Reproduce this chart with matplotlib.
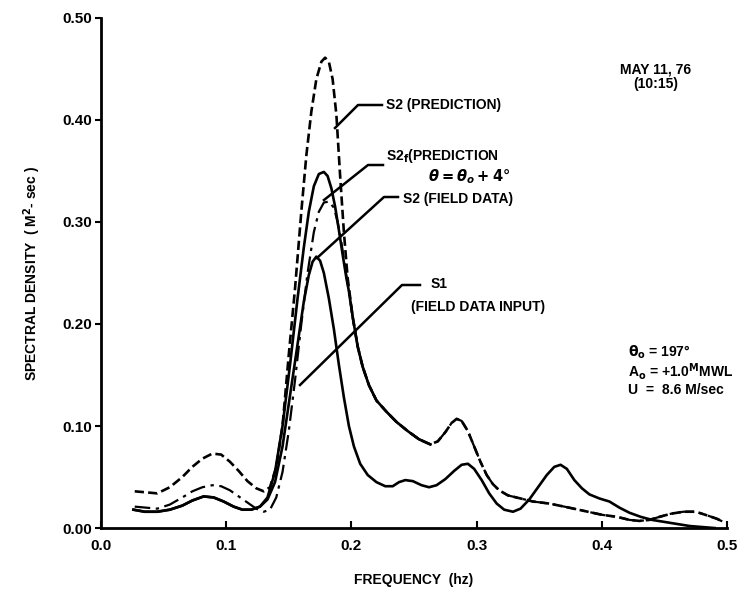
import matplotlib
matplotlib.use('Agg')
import matplotlib.pyplot as plt


# S2 prediction (dashed)
f_pred = [0.027, 0.036, 0.045, 0.055, 0.065, 0.073, 0.081, 0.089, 0.096, 0.103,
          0.110, 0.117, 0.124, 0.130, 0.135, 0.140, 0.145, 0.150, 0.155, 0.160,
          0.164, 0.168, 0.172, 0.176, 0.179, 0.182, 0.185, 0.188, 0.191, 0.194,
          0.197, 0.201, 0.205, 0.209, 0.214, 0.220, 0.228, 0.236, 0.245, 0.254,
          0.263, 0.269, 0.275, 0.280, 0.284, 0.288, 0.293, 0.298, 0.303, 0.308,
          0.313, 0.318, 0.325, 0.335, 0.345, 0.358, 0.370, 0.385, 0.400, 0.412,
          0.422, 0.430, 0.438, 0.446, 0.455, 0.465, 0.475, 0.485, 0.492, 0.497]
s_pred = [0.036, 0.035, 0.034, 0.040, 0.050, 0.060, 0.068, 0.073, 0.072, 0.065,
          0.056, 0.046, 0.039, 0.036, 0.040, 0.060, 0.100, 0.170, 0.235, 0.310,
          0.365, 0.408, 0.440, 0.457, 0.461, 0.457, 0.440, 0.405, 0.345, 0.290,
          0.245, 0.207, 0.178, 0.158, 0.140, 0.125, 0.114, 0.104, 0.095, 0.087,
          0.082, 0.085, 0.094, 0.103, 0.107, 0.105, 0.095, 0.080, 0.065, 0.052,
          0.043, 0.037, 0.032, 0.029, 0.026, 0.024, 0.021, 0.017, 0.013, 0.011,
          0.008, 0.007, 0.008, 0.011, 0.014, 0.016, 0.016, 0.012, 0.009, 0.006]

# S2f prediction (dash-dot), theta = theta0 + 4 deg
f_s2f = [0.027, 0.036, 0.045, 0.055, 0.065, 0.073, 0.081, 0.089, 0.096, 0.103,
         0.110, 0.117, 0.124, 0.130, 0.135, 0.140, 0.145, 0.150, 0.155, 0.160,
         0.165, 0.170, 0.174, 0.178, 0.182, 0.186, 0.189, 0.192, 0.195, 0.198,
         0.201, 0.205, 0.209, 0.214, 0.220, 0.228, 0.236, 0.245, 0.254,
         0.263, 0.269, 0.275, 0.280, 0.284, 0.288, 0.293, 0.298, 0.303, 0.308,
         0.313, 0.318, 0.325, 0.335, 0.345, 0.358, 0.370, 0.385, 0.400, 0.412,
         0.422, 0.430, 0.438, 0.446, 0.455, 0.465, 0.475, 0.485, 0.492, 0.497]
s_s2f = [0.021, 0.020, 0.019, 0.023, 0.030, 0.036, 0.040, 0.042, 0.041, 0.037,
         0.031, 0.025, 0.019, 0.016, 0.018, 0.030, 0.055, 0.095, 0.145, 0.200,
         0.250, 0.290, 0.310, 0.319, 0.320, 0.314, 0.300, 0.280, 0.255, 0.232,
         0.207, 0.178, 0.158, 0.140, 0.125, 0.114, 0.104, 0.095, 0.087,
         0.082, 0.085, 0.094, 0.103, 0.107, 0.105, 0.095, 0.080, 0.065, 0.052,
         0.043, 0.037, 0.032, 0.029, 0.026, 0.024, 0.021, 0.017, 0.013, 0.011,
         0.008, 0.007, 0.008, 0.011, 0.014, 0.016, 0.016, 0.012, 0.009, 0.006]

# S2 field data (solid)
f_s2 = [0.026, 0.035, 0.045, 0.055, 0.065, 0.073, 0.082, 0.090, 0.098, 0.106,
        0.113, 0.120, 0.127, 0.133, 0.139, 0.145, 0.151, 0.157, 0.162, 0.166,
        0.170, 0.174, 0.178, 0.181, 0.184, 0.187, 0.190, 0.193, 0.196, 0.198,
        0.201, 0.205, 0.209, 0.214, 0.220, 0.228, 0.236, 0.245, 0.254, 0.263]
s_s2 = [0.018, 0.016, 0.016, 0.018, 0.022, 0.027, 0.031, 0.030, 0.026, 0.021,
        0.018, 0.018, 0.021, 0.030, 0.055, 0.100, 0.160, 0.225, 0.275, 0.310,
        0.335, 0.347, 0.349, 0.345, 0.333, 0.315, 0.292, 0.268, 0.245, 0.232,
        0.207, 0.178, 0.158, 0.140, 0.125, 0.114, 0.104, 0.095, 0.087, 0.082]

# S1 field data input (solid)
f_s1 = [0.026, 0.035, 0.045, 0.055, 0.065, 0.073, 0.082, 0.090, 0.098, 0.106,
        0.113, 0.120, 0.127, 0.133, 0.139, 0.145, 0.151, 0.157, 0.162, 0.166,
        0.169, 0.172, 0.175, 0.178, 0.182, 0.186, 0.190, 0.194, 0.198, 0.202,
        0.207, 0.213, 0.220, 0.227, 0.233, 0.238, 0.243, 0.249, 0.256, 0.262,
        0.268, 0.275, 0.282, 0.288, 0.293, 0.298, 0.304, 0.310, 0.316, 0.322,
        0.329, 0.335, 0.342, 0.349, 0.356, 0.362, 0.367, 0.372, 0.378, 0.384,
        0.390, 0.398, 0.406, 0.414, 0.422, 0.431, 0.440, 0.450, 0.460, 0.470,
        0.480, 0.490]
s_s1 = [0.018, 0.016, 0.016, 0.018, 0.022, 0.027, 0.031, 0.030, 0.026, 0.021,
        0.018, 0.018, 0.021, 0.028, 0.045, 0.080, 0.130, 0.180, 0.222, 0.248,
        0.261, 0.266, 0.262, 0.250, 0.225, 0.195, 0.160, 0.128, 0.100, 0.080,
        0.063, 0.052, 0.045, 0.041, 0.041, 0.045, 0.047, 0.046, 0.042, 0.040,
        0.042, 0.048, 0.056, 0.062, 0.063, 0.058, 0.047, 0.034, 0.024, 0.018,
        0.016, 0.019, 0.028, 0.040, 0.052, 0.060, 0.062, 0.058, 0.047, 0.039,
        0.033, 0.029, 0.026, 0.020, 0.015, 0.011, 0.008, 0.006, 0.004, 0.002,
        0.001, 0.000]

y_ticks = [0.0, 0.1, 0.2, 0.3, 0.4, 0.5]
y_labels = ['0.00', '0.10', '0.20', '0.30', '0.40', '0.50']
x_ticks = [0.0, 0.1, 0.2, 0.3, 0.4, 0.5]
x_labels = ['0.0', '0.1', '0.2', '0.3', '0.4', '0.5']

plt.rcParams['font.family'] = ['Liberation Sans', 'DejaVu Sans']
plt.rcParams['font.weight'] = 'bold'
plt.rcParams['mathtext.fontset'] = 'dejavusans'

fig = plt.figure(figsize=(7.42, 5.96), dpi=100)
ax = fig.add_axes([0.136, 0.114, 0.844, 0.856])

lw = 1.9
ax.plot(f_s1, s_s1, color='black', linewidth=lw)
ax.plot(f_s2, s_s2, color='black', linewidth=lw)
ax.plot(f_s2f, s_s2f, color='black', linewidth=1.6, linestyle=(0, (7, 2.5, 1.5, 2.5)))
ax.plot(f_pred, s_pred, color='black', linewidth=lw, linestyle=(0, (3.5, 1.6)))

ax.set_xlim(0.0, 0.5)
ax.set_ylim(0.0, 0.5)
ax.set_yticks(y_ticks)
ax.set_yticklabels(y_labels)
ax.set_xticks(x_ticks)
ax.set_xticklabels(x_labels)
ax.tick_params(axis='y', direction='out', length=4, width=1.5, labelsize=11, pad=2)
ax.tick_params(axis='x', direction='in', length=5, width=1.5, labelsize=11, pad=8)
for lab in ax.get_xticklabels() + ax.get_yticklabels():
    lab.set_fontweight('bold')

ax.spines['top'].set_visible(False)
ax.spines['right'].set_visible(False)
ax.spines['left'].set_linewidth(2)
ax.spines['bottom'].set_linewidth(2)

ax.set_xlabel('FREQUENCY  (hz)', fontsize=10, fontweight='bold', labelpad=14)
ax.set_ylabel('SPECTRAL DENSITY  ( M$^2$- sec )', fontsize=10, fontweight='bold', labelpad=14)


def px(x, y):
    # pixel position in the figure -> data coordinates
    return ax.transData.inverted().transform(fig.transFigure.transform((x / 742, 1 - y / 596)))


def leader(points):
    xs, ys = zip(*[px(x, y) for x, y in points])
    ax.plot(xs, ys, color='black', linewidth=1.8, clip_on=False)


leader([(382, 105), (358, 105), (335, 128)])
leader([(383, 165), (368, 165), (324, 200)])
leader([(398, 197), (384, 197), (317, 258)])
leader([(420, 285), (402, 285), (300, 385)])

tfont = dict(fontsize=10, fontweight='bold', ha='left', va='center')
ax.text(*px(386, 105), 'S2 (PREDICTION)', **tfont)
ax.text(*px(386, 156), 'S2$_{\\mathbf{f}}$(PREDICTION', **tfont)
ax.text(*px(428, 177), r'$\theta = \theta_{o} + 4°$', fontsize=10.5, ha='left', va='center')
ax.text(*px(403, 199), 'S2 (FIELD DATA)', **tfont)
ax.text(*px(431, 284), 'S1', **tfont)
ax.text(*px(411, 307), '(FIELD DATA INPUT)', **tfont)

rfont = dict(fontsize=10, fontweight='bold', ha='center', va='center')
ax.text(*px(656, 69), 'MAY 11, 76', **rfont)
ax.text(*px(656, 84), '(10:15)', **rfont)

lfont = dict(fontsize=10, fontweight='bold', ha='left', va='center')
ax.text(*px(628, 352), '$\\mathbf{\\theta_o}$ = 197°', **lfont)
ax.text(*px(628, 371), 'A$_\\mathbf{o}$ = +1.0$^\\mathbf{M}$MWL', **lfont)
ax.text(*px(628, 390), 'U  =  8.6 M/sec', **lfont)

fig.savefig('out.png', dpi=100)
